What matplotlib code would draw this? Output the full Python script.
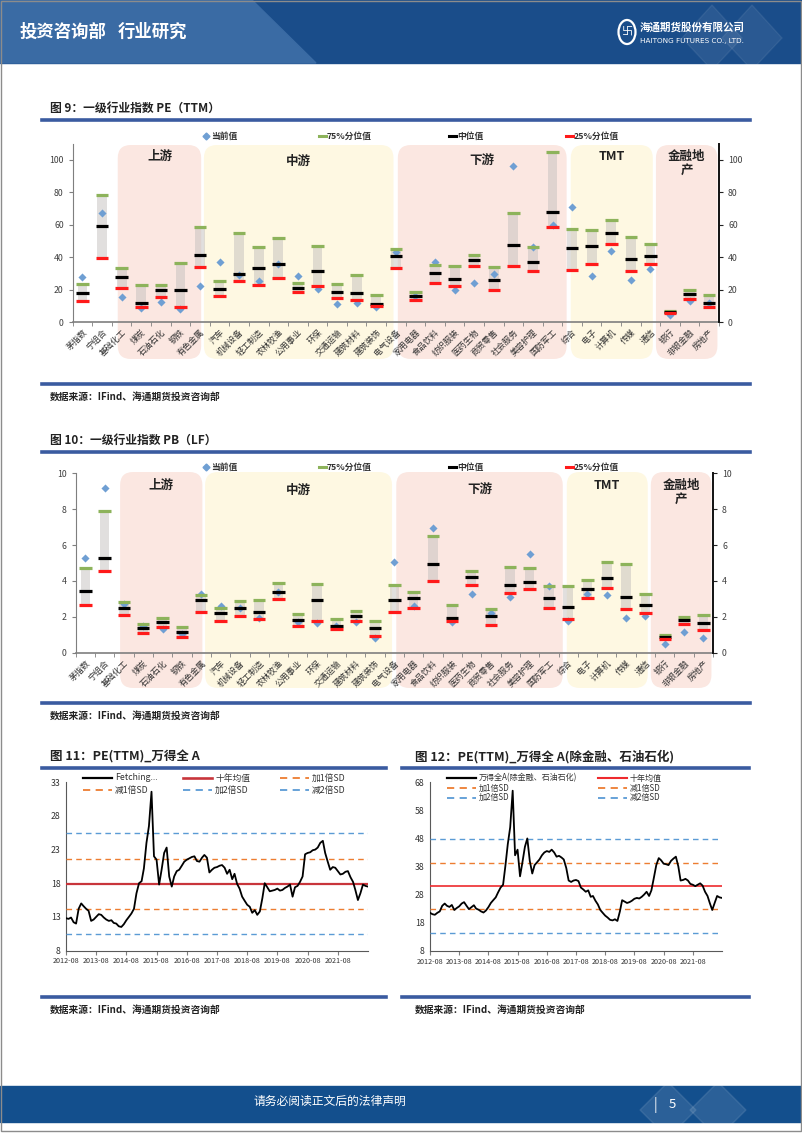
import numpy as np
import pandas as pd
import matplotlib
matplotlib.use('Agg')
import matplotlib.pyplot as plt
import matplotlib.dates as mdates
from matplotlib.patches import FancyBboxPatch, Rectangle, Polygon, Circle
from matplotlib.lines import Line2D
from matplotlib.transforms import IdentityTransform

plt.rcParams['font.family'] = ['Noto Sans CJK SC', 'DejaVu Sans']
plt.rcParams['axes.unicode_minus'] = False

W, H = 802, 1133

# ---------------- data: industry valuation ranges ----------------
industries = ['茅指数', '宁组合', '基础化工', '煤炭', '石油石化', '钢铁', '有色金属',
              '汽车', '机械设备', '轻工制造', '农林牧渔', '公用事业', '环保', '交通运输',
              '建筑材料', '建筑装饰', '电气设备', '家用电器', '食品饮料', '纺织服装',
              '医药生物', '商贸零售', '社会服务', '美容护理', '国防军工', '综合', '电子',
              '计算机', '传媒', '通信', '银行', '非银金融', '房地产']

pe_q75 = [23.6, 78.2, 33.3, 23.2, 23.2, 36.3, 58.5, 25.5, 55.2, 46.2, 52.2, 24.4, 46.8,
          23.4, 29.0, 16.6, 45.4, 18.7, 35.5, 34.5, 41.7, 34.1, 67.4, 46.4, 105.1, 57.5,
          57.1, 63.0, 52.4, 48.5, 7.2, 19.7, 16.8]
pe_med = [18.1, 59.1, 27.9, 11.7, 19.7, 20.1, 41.5, 20.5, 30.0, 33.3, 35.7, 20.9, 31.8,
          18.7, 18.3, 11.5, 40.9, 16.2, 30.2, 26.7, 38.2, 26.1, 47.4, 37.2, 68.2, 45.8,
          46.8, 54.8, 39.0, 40.9, 6.6, 17.2, 12.1]
pe_q25 = [12.9, 39.8, 21.4, 9.4, 15.6, 9.7, 33.9, 16.2, 25.3, 23.2, 27.1, 18.7, 22.6,
          15.2, 13.6, 9.9, 33.3, 14.0, 24.2, 22.6, 34.5, 19.9, 34.7, 31.4, 58.5, 32.2,
          35.9, 48.3, 31.4, 36.1, 6.0, 14.6, 9.4]
pe_now = [27.7, 67.1, 15.8, 8.6, 12.7, 8.4, 22.6, 37.0, 29.4, 25.7, 35.7, 28.3, 20.7,
          11.5, 11.7, 9.2, 43.1, 16.2, 37.0, 19.9, 24.2, 30.0, 96.1, 46.2, 59.8, 71.0,
          28.3, 44.1, 25.9, 32.9, 4.7, 13.3, 12.1]

pb_q75 = [4.70, 7.90, 2.84, 1.58, 1.91, 1.43, 3.23, 2.49, 2.90, 2.96, 3.87, 2.17, 3.83,
          1.86, 2.32, 1.78, 3.77, 3.36, 6.52, 2.64, 4.54, 2.42, 4.78, 4.70, 3.72, 3.72,
          4.07, 5.06, 4.96, 3.25, 0.99, 1.99, 2.08]
pb_med = [3.46, 5.26, 2.47, 1.36, 1.71, 1.17, 2.92, 2.19, 2.49, 2.27, 3.40, 1.82, 2.96,
          1.51, 2.06, 1.36, 2.96, 3.07, 4.96, 1.95, 4.20, 2.06, 3.79, 3.96, 3.07, 2.57,
          3.55, 4.16, 3.10, 2.64, 0.87, 1.84, 1.67]
pb_q25 = [2.66, 4.57, 2.10, 1.12, 1.43, 0.89, 2.29, 1.77, 2.04, 1.86, 2.99, 1.51, 1.77,
          1.32, 1.78, 0.95, 2.25, 2.47, 4.00, 1.78, 3.75, 1.52, 3.33, 3.53, 2.49, 1.86,
          3.07, 3.61, 2.42, 2.19, 0.74, 1.62, 1.26]
pb_now = [5.26, 9.16, 2.70, 1.50, 1.34, 1.02, 3.29, 2.60, 2.49, 1.95, 3.40, 1.73, 1.67,
          1.51, 1.71, 0.84, 5.07, 2.58, 6.93, 1.73, 3.27, 2.23, 3.10, 5.52, 3.70, 1.75,
          3.27, 3.20, 1.95, 2.06, 0.46, 1.17, 0.80]

# shaded sector groups (category spans)
groups = ['上游', '中游', '下游', 'TMT', '金融地\n产']
group_start = [1.8, 6.2, 16.1, 24.93, 29.28]
group_end = [6.06, 15.88, 24.72, 29.12, 32.42]
group_color = ['#fbe7e1', '#fef8e2', '#fbe7e1', '#fef8e2', '#fbe7e1']

# ---------------- data: market PE history (monthly, 2012-08 .. 2022-08) ----------------
months = pd.date_range('2012-08-01', '2022-08-01', freq='MS')
pe_all_a = [12.8, 12.7, 12.9, 12.2, 12.0, 14.2, 15.0, 14.6, 14.2, 13.9, 12.4, 12.6,
            13.0, 13.4, 13.3, 12.9, 12.6, 12.4, 12.5, 12.1, 12.0, 11.6, 11.5, 11.9,
            12.5, 13.0, 13.5, 14.2, 16.5, 18.0, 18.3, 20.2, 24.0, 26.5, 31.6, 22.0,
            21.5, 17.8, 20.0, 22.5, 23.3, 19.0, 17.5, 19.0, 19.8, 20.0, 20.6, 21.2,
            21.5, 21.7, 21.9, 22.0, 21.3, 21.2, 21.8, 22.2, 21.8, 19.6, 20.0, 20.3,
            20.4, 20.6, 20.7, 20.3, 19.4, 20.0, 18.6, 19.4, 17.9, 17.2, 16.0, 15.4,
            14.8, 14.5, 13.6, 14.0, 13.3, 13.8, 15.8, 18.0, 17.4, 16.8, 16.9, 17.0,
            17.2, 16.9, 17.0, 17.3, 17.5, 17.8, 16.0, 17.4, 17.6, 18.2, 19.0, 22.3,
            22.5, 22.6, 22.9, 23.0, 23.3, 24.0, 24.3, 22.5, 21.2, 20.0, 20.4, 20.3,
            19.8, 19.3, 19.4, 19.7, 19.8, 18.9, 18.2, 17.0, 15.5, 16.5, 17.8, 17.6, 17.5]
pe_all_a_mean, pe_all_a_sd = 17.9, 3.76

pe_ex_fin = [21.5, 21.0, 20.8, 21.5, 22.0, 24.0, 24.8, 24.0, 23.6, 24.3, 22.5, 23.2,
             23.8, 24.8, 25.3, 24.0, 22.8, 23.5, 24.2, 23.0, 22.6, 22.0, 21.6, 22.3,
             23.5, 25.0, 26.0, 27.0, 28.8, 30.5, 31.5, 38.0, 46.0, 52.0, 65.0, 42.0,
             44.0, 34.5, 39.5, 45.0, 48.0, 40.0, 35.5, 38.5, 39.5, 40.5, 42.0, 43.0,
             43.5, 43.2, 44.0, 43.0, 41.5, 41.8, 41.2, 40.5, 37.5, 33.0, 32.5, 33.0,
             33.2, 32.8, 30.5, 29.8, 29.0, 29.5, 27.2, 27.5, 25.8, 24.5, 22.5, 21.5,
             20.5, 19.8, 19.0, 18.8, 19.2, 18.6, 22.0, 26.0, 25.5, 25.0, 25.3, 25.8,
             26.5, 26.8, 26.6, 27.2, 28.0, 29.0, 27.5, 29.5, 34.0, 38.5, 41.0, 40.2,
             39.0, 38.8, 38.5, 40.0, 40.8, 41.5, 38.0, 33.0, 33.2, 33.6, 33.0, 31.8,
             31.5, 31.0, 31.5, 32.0, 31.2, 29.0, 27.5, 25.0, 22.5, 25.0, 27.5, 27.0, 26.8]
pe_ex_fin_mean, pe_ex_fin_sd = 31.05, 8.33

fig = plt.figure(figsize=(W / 100, H / 100), dpi=100)


def fx(x):
    return x / W


def fy(y):
    return 1 - y / H


def add_px_axes(l, t, r, b):
    return fig.add_axes([fx(l), fy(b), (r - l) / W, (b - t) / H])


def hline_px(x0, x1, y, color='#3a5ba0', lw=2.6):
    fig.add_artist(Line2D([fx(x0), fx(x1)], [fy(y), fy(y)], color=color, lw=lw,
                          transform=fig.transFigure))


def fig_text(x, y, s, **kw):
    kw.setdefault('va', 'center')
    fig.text(fx(x), fy(y), s, **kw)


# ---------------- page header / footer ----------------
fig.add_artist(Rectangle((0, fy(63)), 1, 63 / H, transform=fig.transFigure,
                         color='#1a4d8a', zorder=-5))
fig.add_artist(Polygon([(0, fy(0)), (fx(252), fy(0)), (fx(316), fy(63)), (0, fy(63))],
                       closed=True, transform=fig.transFigure, color='#3a6ba4', zorder=-4))
for cx in [712, 752]:
    fig.add_artist(Polygon([(fx(cx - 30), fy(38)), (fx(cx), fy(5)), (fx(cx + 30), fy(38)),
                            (fx(cx), fy(70))], closed=True, transform=fig.transFigure,
                           color='white', alpha=0.07, zorder=-3))
fig_text(20, 32, '投资咨询部', color='white', fontsize=12.5, fontweight='bold')
fig_text(118, 32, '行业研究', color='white', fontsize=12.5, fontweight='bold')
fig.add_artist(Circle((fx(627), fy(32)), 8.5 / W, transform=fig.transFigure,
                      fill=False, ec='white', lw=1.6))
fig_text(627, 32, '卐', color='white', fontsize=8, ha='center')
fig_text(640, 27, '海通期货股份有限公司', color='white', fontsize=7.6, fontweight='bold')
fig_text(640, 41, 'HAITONG FUTURES CO., LTD.', color='white', fontsize=5.2,
         family='DejaVu Sans')

fig.add_artist(Rectangle((0, fy(1122)), 1, 36 / H, transform=fig.transFigure,
                         color='#134f8d', zorder=-5))
for cx in [668, 718]:
    fig.add_artist(Polygon([(fx(cx - 28), fy(1110)), (fx(cx), fy(1082)), (fx(cx + 28), fy(1110)),
                            (fx(cx), fy(1138))], closed=True, transform=fig.transFigure,
                           color='white', alpha=0.1, zorder=-3))
fig_text(330, 1101, '请务必阅读正文后的法律声明', color='white', fontsize=8.5, ha='center')
fig_text(655, 1105, '|', color='white', fontsize=10, ha='center')
fig_text(672, 1105, '5', color='white', fontsize=9.5, ha='center')
fig.add_artist(Rectangle((fx(1), fy(1131)), fx(800), 1130 / H, transform=fig.transFigure,
                         fill=False, ec='#8c8c8c', lw=1.0, zorder=-2))

# ---------------- titles, rules, sources ----------------
fig_text(50, 108, '图 9：一级行业指数 PE（TTM）', fontsize=8.5, fontweight='bold', color='#222222')
hline_px(42, 750, 120)
hline_px(42, 750, 384)
fig_text(50, 397, '数据来源：IFind、海通期货投资咨询部', fontsize=7, fontweight='bold', color='#222222')

fig_text(50, 440, '图 10：一级行业指数 PB（LF）', fontsize=8.5, fontweight='bold', color='#222222')
hline_px(42, 750, 452)
hline_px(42, 750, 703)
fig_text(50, 716, '数据来源：IFind、海通期货投资咨询部', fontsize=7, fontweight='bold', color='#222222')

fig_text(50, 757, '图 11：PE(TTM)_万得全 A', fontsize=9, fontweight='bold', color='#222222')
fig_text(415, 757, '图 12：PE(TTM)_万得全 A(除金融、石油石化)', fontsize=9, fontweight='bold',
         color='#222222')
hline_px(42, 386, 768)
hline_px(402, 749, 768)
hline_px(42, 386, 997)
hline_px(402, 749, 997)
fig_text(50, 1010, '数据来源：IFind、海通期货投资咨询部', fontsize=7, fontweight='bold', color='#222222')
fig_text(415, 1010, '数据来源：IFind、海通期货投资咨询部', fontsize=7, fontweight='bold', color='#222222')


# ---------------- range charts (fig 9, fig 10) ----------------
def range_chart(ax, q75, med, q25, now, ymax, ystep, box_top, box_bottom, label_y, leg_y):
    x = np.arange(len(industries))
    q75 = np.array(q75)
    q25 = np.array(q25)
    ax.set_facecolor('none')
    ax.bar(x, q75 - q25, bottom=q25, width=0.5, color='#c4c0be', alpha=0.5, zorder=2)
    ax.scatter(x, now, marker='D', s=17, color='#6f9fd3', linewidths=0, zorder=3)
    ax.hlines(q75, x - 0.32, x + 0.32, color='#8db35b', lw=2.3, zorder=4)
    ax.hlines(med, x - 0.32, x + 0.32, color='black', lw=2.3, zorder=5)
    ax.hlines(q25, x - 0.32, x + 0.32, color='#ff1a1a', lw=2.3, zorder=6)
    ax.set_xlim(-0.5, len(industries) - 0.5)
    ax.set_ylim(0, ymax)
    ticks = np.arange(0, ymax + 0.01, ystep)
    ax.set_yticks(ticks)
    ax.set_xticks(x)
    ax.set_xticklabels(industries, rotation=45, ha='right', rotation_mode='anchor',
                       fontsize=6, color='#333333')
    ax.tick_params(axis='x', length=0, pad=4)
    ax.set_xticks(np.arange(-0.5, len(industries)), minor=True)
    ax.tick_params(axis='x', which='minor', length=3, color='#7f7f7f')
    ax.tick_params(axis='y', labelsize=6.3, labelcolor='#404040', length=3, color='#7f7f7f')
    ax.spines['top'].set_visible(False)
    ax.spines['right'].set_visible(False)
    ax.spines['left'].set_color('#7f7f7f')
    ax.spines['bottom'].set_color('#7f7f7f')
    ax.spines['bottom'].set_linewidth(1.2)

    ax2 = ax.twinx()
    ax2.set_ylim(0, ymax)
    ax2.set_yticks(ticks)
    ax2.tick_params(axis='y', labelsize=6.3, labelcolor='#404040', length=3, color='#222222')
    for s in ['top', 'left', 'bottom']:
        ax2.spines[s].set_visible(False)
    ax2.spines['right'].set_color('#111111')
    ax2.spines['right'].set_linewidth(1.4)
    ax2.set_facecolor('none')

    # sector shading in page pixels
    for name, s, e, c in zip(groups, group_start, group_end, group_color):
        x0 = ax.transData.transform((s, 0))[0]
        x1 = ax.transData.transform((e, 0))[0]
        y0 = H - box_bottom
        y1 = H - box_top
        fig.add_artist(FancyBboxPatch((x0, y0), x1 - x0, y1 - y0,
                                      boxstyle='round,pad=0,rounding_size=13',
                                      transform=IdentityTransform(), fc=c, ec='none',
                                      zorder=-1))
        ly = label_y + (5 if name in ('中游', '下游') else 0)
        fig.text((x0 + x1) / 2 / W, fy(ly), name, ha='center', va='top', fontsize=9,
                 fontweight='bold', color='#222222', linespacing=1.1)

    # legend row
    items = [('当前值', 'D', '#6f9fd3'), ('75%分位值', '-', '#8db35b'),
             ('中位值', '-', 'black'), ('25%分位值', '-', '#ff1a1a')]
    for (lab, kind, col), lx in zip(items, [206, 322, 452, 569]):
        if kind == 'D':
            fig.add_artist(Line2D([fx(lx)], [fy(leg_y)], marker='D', markersize=3.5, color=col,
                                  lw=0, transform=fig.transFigure))
        else:
            fig.add_artist(Line2D([fx(lx - 3), fx(lx + 4)], [fy(leg_y), fy(leg_y)], color=col,
                                  lw=2.2, transform=fig.transFigure))
        fig_text(lx + 5, leg_y, lab, fontsize=6.3, fontweight='bold', color='#333333')


ax9 = add_px_axes(72.7, 143.7, 719, 322.3)
range_chart(ax9, pe_q75, pe_med, pe_q25, pe_now, 110, 20, 145, 359, 150, 136)

ax10 = add_px_axes(75.7, 473.3, 713, 652.7)
range_chart(ax10, pb_q75, pb_med, pb_q25, pb_now, 10, 2, 472, 688, 479, 467)


# ---------------- history charts (fig 11, fig 12) ----------------
def history_chart(ax, values, mean, sd, yticks, name, mean_color, mean_lw):
    ax.plot(months, values, color='black', lw=1.3, zorder=5)
    ax.axhline(mean, color=mean_color, lw=mean_lw, zorder=4)
    ax.axhline(mean + sd, color='#ed7d31', lw=1.0, ls=(0, (4, 3)), zorder=3)
    ax.axhline(mean - sd, color='#ed7d31', lw=1.0, ls=(0, (4, 3)), zorder=3)
    ax.axhline(mean + 2 * sd, color='#5b9bd5', lw=1.0, ls=(0, (4, 3)), zorder=3)
    ax.axhline(mean - 2 * sd, color='#5b9bd5', lw=1.0, ls=(0, (4, 3)), zorder=3)
    ax.set_ylim(yticks[0], yticks[-1])
    ax.set_yticks(yticks)
    ax.set_xlim(months[0], months[-1])
    ax.set_xticks(months[::12][:10])
    ax.xaxis.set_major_formatter(mdates.DateFormatter('%Y-%m'))
    ax.tick_params(axis='x', labelsize=5.2, labelcolor='#333333', length=3, color='#7f7f7f', pad=2)
    ax.tick_params(axis='y', labelsize=6.3, labelcolor='#333333', length=0, pad=4)
    ax.spines['top'].set_visible(False)
    ax.spines['right'].set_visible(False)
    ax.spines['left'].set_color('#595959')
    ax.spines['bottom'].set_color('#595959')
    ax.set_facecolor('none')
    return [(name, 'black', '-', 1.3), ('十年均值', mean_color, '-', mean_lw),
            ('加1倍SD', '#ed7d31', (0, (4, 3)), 1.0), ('减1倍SD', '#ed7d31', (0, (4, 3)), 1.0),
            ('加2倍SD', '#5b9bd5', (0, (4, 3)), 1.0), ('减2倍SD', '#5b9bd5', (0, (4, 3)), 1.0)]


def px_legend(entries, col_x, row_y, ncol, fs, hlen=29):
    for i, (lab, col, ls, lw) in enumerate(entries):
        cx = col_x[i % ncol]
        ry = row_y[i // ncol]
        fig.add_artist(Line2D([fx(cx), fx(cx + hlen)], [fy(ry), fy(ry)], color=col, ls=ls,
                              lw=lw + 0.3, transform=fig.transFigure))
        fig_text(cx + hlen + 3, ry, lab, fontsize=fs, color='#333333')


ax11 = add_px_axes(66, 782.3, 368, 950.5)
ent11 = history_chart(ax11, pe_all_a, pe_all_a_mean, pe_all_a_sd, [8, 13, 18, 23, 28, 33],
                      'Fetching...', '#c8353b', 1.6)
px_legend(ent11, [83, 183, 280], [778, 790], 3, 6.3)

ax12 = add_px_axes(430, 782.3, 722, 950.7)
ent12 = history_chart(ax12, pe_ex_fin, pe_ex_fin_mean, pe_ex_fin_sd, [8, 18, 28, 38, 48, 58, 68],
                      '万得全A(除金融、石油石化)', '#ee2a2e', 1.2)
px_legend(ent12, [447, 598], [778, 788, 797.5], 2, 5.8)

fig.savefig('out.png', dpi=100)
